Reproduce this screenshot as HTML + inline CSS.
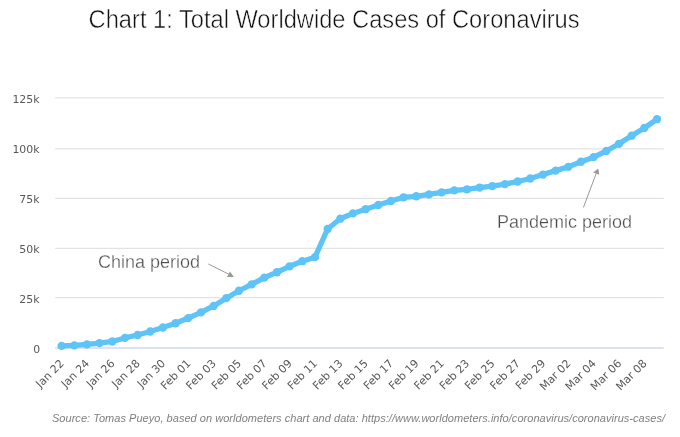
<!DOCTYPE html>
<html><head><meta charset="utf-8"><style>
html,body{margin:0;padding:0;background:#fff;}
svg{display:block;will-change:transform;}
.title{font-family:"Liberation Sans",sans-serif;font-size:25.4px;fill:#111;stroke:#fff;stroke-width:0.5px;}
.ax{font-family:"DejaVu Sans",sans-serif;font-size:10.9px;fill:#585858;}
.xl{font-size:11px;}
.ann{font-family:"Liberation Sans",sans-serif;font-size:18px;fill:#4a4a4a;stroke:#fff;stroke-width:0.3px;}
.src{font-family:"Liberation Sans",sans-serif;font-style:italic;font-size:11px;fill:#808080;}
</style></head><body>
<svg width="680" height="437" viewBox="0 0 680 437">
<rect width="680" height="437" fill="#fff"/>
<text class="title" x="88.6" y="27.6" textLength="491" lengthAdjust="spacingAndGlyphs">Chart 1: Total Worldwide Cases of Coronavirus</text>
<g stroke="#e3e3e3" stroke-width="1.3">
<line x1="55.2" x2="663.8" y1="297.6" y2="297.6"/>
<line x1="55.2" x2="663.8" y1="248.4" y2="248.4"/>
<line x1="55.2" x2="663.8" y1="198.3" y2="198.3"/>
<line x1="55.2" x2="663.8" y1="148.85" y2="148.85"/>
<line x1="55.2" x2="663.8" y1="97.8" y2="97.8"/>
</g>
<line x1="55.2" x2="663.8" y1="348" y2="348" stroke="#dde2f2" stroke-width="2"/>
<g class="ax">
<text x="40.2" y="353.2" text-anchor="end">0</text>
<text x="39.5" y="303.2" text-anchor="end">25k</text>
<text x="39.5" y="253.2" text-anchor="end">50k</text>
<text x="39.5" y="203.2" text-anchor="end">75k</text>
<text x="39.5" y="153.2" text-anchor="end">100k</text>
<text x="39.5" y="103.2" text-anchor="end">125k</text>
</g>
<g class="ax xl">
<text transform="translate(64.70,364.0) rotate(-45)" text-anchor="end">Jan 22</text>
<text transform="translate(90.04,364.0) rotate(-45)" text-anchor="end">Jan 24</text>
<text transform="translate(115.37,364.0) rotate(-45)" text-anchor="end">Jan 26</text>
<text transform="translate(140.71,364.0) rotate(-45)" text-anchor="end">Jan 28</text>
<text transform="translate(166.04,364.0) rotate(-45)" text-anchor="end">Jan 30</text>
<text transform="translate(191.38,364.0) rotate(-45)" text-anchor="end">Feb 01</text>
<text transform="translate(216.72,364.0) rotate(-45)" text-anchor="end">Feb 03</text>
<text transform="translate(242.05,364.0) rotate(-45)" text-anchor="end">Feb 05</text>
<text transform="translate(267.39,364.0) rotate(-45)" text-anchor="end">Feb 07</text>
<text transform="translate(292.73,364.0) rotate(-45)" text-anchor="end">Feb 09</text>
<text transform="translate(318.06,364.0) rotate(-45)" text-anchor="end">Feb 11</text>
<text transform="translate(343.40,364.0) rotate(-45)" text-anchor="end">Feb 13</text>
<text transform="translate(368.73,364.0) rotate(-45)" text-anchor="end">Feb 15</text>
<text transform="translate(394.07,364.0) rotate(-45)" text-anchor="end">Feb 17</text>
<text transform="translate(419.41,364.0) rotate(-45)" text-anchor="end">Feb 19</text>
<text transform="translate(444.74,364.0) rotate(-45)" text-anchor="end">Feb 21</text>
<text transform="translate(470.08,364.0) rotate(-45)" text-anchor="end">Feb 23</text>
<text transform="translate(495.41,364.0) rotate(-45)" text-anchor="end">Feb 25</text>
<text transform="translate(520.75,364.0) rotate(-45)" text-anchor="end">Feb 27</text>
<text transform="translate(546.09,364.0) rotate(-45)" text-anchor="end">Feb 29</text>
<text transform="translate(571.42,364.0) rotate(-45)" text-anchor="end">Mar 02</text>
<text transform="translate(596.76,364.0) rotate(-45)" text-anchor="end">Mar 04</text>
<text transform="translate(622.10,364.0) rotate(-45)" text-anchor="end">Mar 06</text>
<text transform="translate(647.43,364.0) rotate(-45)" text-anchor="end">Mar 08</text>
</g>
<polyline points="61.60,345.90 74.27,345.38 86.94,344.44 99.60,343.05 112.27,341.48 124.94,337.93 137.61,334.99 150.28,331.50 162.94,327.49 175.61,323.26 188.28,318.07 200.95,312.42 213.62,305.97 226.29,298.17 238.95,290.75 251.62,284.43 264.29,277.59 276.96,272.26 289.63,266.28 302.29,261.21 314.96,257.15 327.63,228.96 340.30,218.70 352.97,213.40 365.63,209.22 378.30,204.97 390.97,200.98 403.64,197.29 416.31,196.27 428.97,194.32 441.64,192.34 454.31,190.39 466.98,189.28 479.65,187.53 492.31,186.05 504.98,184.07 517.65,181.50 530.32,178.51 542.99,174.54 555.66,170.60 568.32,166.90 580.99,161.77 593.66,157.19 606.33,151.00 619.00,143.78 631.66,135.71 644.33,127.96 657.00,119.21" fill="none" stroke="#5ec4f7" stroke-width="5.3" stroke-linejoin="round" stroke-linecap="round"/>
<g fill="#5ec4f7">
<circle cx="61.60" cy="345.90" r="4.15"/>
<circle cx="74.27" cy="345.38" r="4.15"/>
<circle cx="86.94" cy="344.44" r="4.15"/>
<circle cx="99.60" cy="343.05" r="4.15"/>
<circle cx="112.27" cy="341.48" r="4.15"/>
<circle cx="124.94" cy="337.93" r="4.15"/>
<circle cx="137.61" cy="334.99" r="4.15"/>
<circle cx="150.28" cy="331.50" r="4.15"/>
<circle cx="162.94" cy="327.49" r="4.15"/>
<circle cx="175.61" cy="323.26" r="4.15"/>
<circle cx="188.28" cy="318.07" r="4.15"/>
<circle cx="200.95" cy="312.42" r="4.15"/>
<circle cx="213.62" cy="305.97" r="4.15"/>
<circle cx="226.29" cy="298.17" r="4.15"/>
<circle cx="238.95" cy="290.75" r="4.15"/>
<circle cx="251.62" cy="284.43" r="4.15"/>
<circle cx="264.29" cy="277.59" r="4.15"/>
<circle cx="276.96" cy="272.26" r="4.15"/>
<circle cx="289.63" cy="266.28" r="4.15"/>
<circle cx="302.29" cy="261.21" r="4.15"/>
<circle cx="314.96" cy="257.15" r="4.15"/>
<circle cx="327.63" cy="228.96" r="4.15"/>
<circle cx="340.30" cy="218.70" r="4.15"/>
<circle cx="352.97" cy="213.40" r="4.15"/>
<circle cx="365.63" cy="209.22" r="4.15"/>
<circle cx="378.30" cy="204.97" r="4.15"/>
<circle cx="390.97" cy="200.98" r="4.15"/>
<circle cx="403.64" cy="197.29" r="4.15"/>
<circle cx="416.31" cy="196.27" r="4.15"/>
<circle cx="428.97" cy="194.32" r="4.15"/>
<circle cx="441.64" cy="192.34" r="4.15"/>
<circle cx="454.31" cy="190.39" r="4.15"/>
<circle cx="466.98" cy="189.28" r="4.15"/>
<circle cx="479.65" cy="187.53" r="4.15"/>
<circle cx="492.31" cy="186.05" r="4.15"/>
<circle cx="504.98" cy="184.07" r="4.15"/>
<circle cx="517.65" cy="181.50" r="4.15"/>
<circle cx="530.32" cy="178.51" r="4.15"/>
<circle cx="542.99" cy="174.54" r="4.15"/>
<circle cx="555.66" cy="170.60" r="4.15"/>
<circle cx="568.32" cy="166.90" r="4.15"/>
<circle cx="580.99" cy="161.77" r="4.15"/>
<circle cx="593.66" cy="157.19" r="4.15"/>
<circle cx="606.33" cy="151.00" r="4.15"/>
<circle cx="619.00" cy="143.78" r="4.15"/>
<circle cx="631.66" cy="135.71" r="4.15"/>
<circle cx="644.33" cy="127.96" r="4.15"/>
<circle cx="657.00" cy="119.21" r="4.15"/>
</g>
<text class="ann" x="98" y="268.4">China period</text>
<line x1="208.3" y1="264" x2="229" y2="274.3" stroke="#999" stroke-width="1"/>
<polygon points="230,271.6 227,276.9 233.9,276.9" fill="#999"/>
<text class="ann" x="497" y="228.4">Pandemic period</text>
<line x1="583.4" y1="207.5" x2="596.2" y2="173.5" stroke="#999" stroke-width="1"/>
<polygon points="598.3,168.4 593.1,172.4 599.3,174.8" fill="#999"/>
<text class="src" x="52" y="421.7" textLength="613" lengthAdjust="spacing">Source: Tomas Pueyo, based on worldometers chart and data: https://www.worldometers.info/coronavirus/coronavirus-cases/</text>
</svg>
</body></html>
